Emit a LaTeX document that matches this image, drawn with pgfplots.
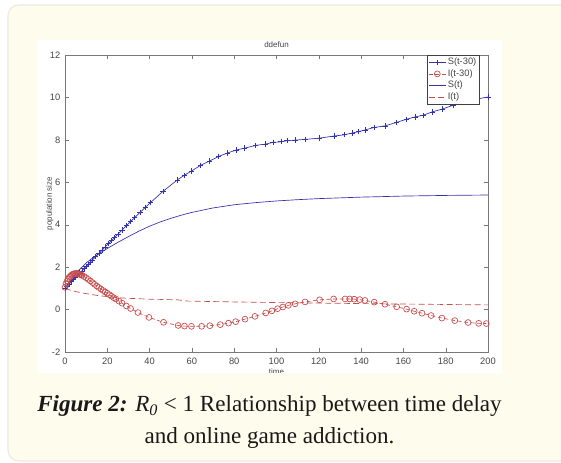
\documentclass[border=0pt]{standalone}
\usepackage{pgfplots}
\pgfplotsset{compat=1.18}
\usepackage{fontspec}
\setmainfont{Liberation Serif}
\newfontfamily\plotfont{Liberation Sans}
\definecolor{cream}{RGB}{254,252,236}
\definecolor{creamborder}{RGB}{236,234,222}
\definecolor{axisgray}{RGB}{120,120,120}
\definecolor{labelgray}{RGB}{70,70,70}
\definecolor{matblue}{RGB}{50,50,170}
\definecolor{matred}{RGB}{200,75,75}

\pgfplotstableread{
t v
0 1
1 1.1
2 1.2
3 1.31
4 1.41
5 1.51
6 1.62
7 1.72
8 1.82
9 1.93
10 2.03
11 2.13
12 2.24
13 2.34
14.5 2.49
16 2.64
17.5 2.8
19 2.95
20.5 3.1
22 3.25
23.5 3.4
25 3.55
27 3.75
29 3.95
31 4.15
33 4.34
35.5 4.58
38 4.82
40.5 5.05
46.3 5.57
53.1 6.11
56.4 6.33
59.8 6.53
64.1 6.8
68.3 7.0
72.7 7.22
76.8 7.38
80.9 7.52
85 7.61
90.2 7.74
94.8 7.8
98.4 7.88
102.2 7.91
105 7.96
108.8 7.99
113.4 8.02
120.3 8.08
127.2 8.18
132.3 8.24
135.7 8.32
138.9 8.39
141.9 8.47
146.1 8.58
151.3 8.66
156.7 8.82
161.4 8.97
165.5 9.08
169.3 9.16
173.7 9.32
178.4 9.45
183.4 9.63
188.5 9.78
193.5 9.9
200 10.02
}\Sdelay

\pgfplotstableread{
t v
0 1.05
0.5 1.22
1 1.35
1.5 1.45
2 1.52
2.5 1.57
3 1.62
3.5 1.65
4 1.68
4.5 1.69
5 1.7
5.5 1.7
6 1.69
6.5 1.68
7 1.66
7.5 1.64
8 1.62
9 1.56
10 1.5
11 1.42
12 1.35
13 1.27
14 1.19
15 1.11
16 1.04
17 0.97
18 0.9
19 0.83
20 0.77
21 0.7
22 0.63
23 0.56
24 0.5
25.5 0.4
27 0.3
29 0.17
31 0.05
34.5 -0.14
39.7 -0.37
46.6 -0.6
53.5 -0.75
56.5 -0.78
59.8 -0.79
64.6 -0.79
68.5 -0.76
73.4 -0.71
77.3 -0.64
80.7 -0.57
85.1 -0.45
89.8 -0.32
94.9 -0.16
97.8 -0.06
100.5 0.04
103 0.12
105.6 0.2
108.8 0.27
113.5 0.36
120.4 0.46
127 0.5
132.4 0.5
134.6 0.5
136.7 0.49
139.4 0.47
141.8 0.43
146.2 0.35
151.3 0.25
156.8 0.13
161.5 0.02
165.1 -0.08
168.8 -0.17
173.1 -0.28
178.2 -0.4
184.3 -0.52
190.6 -0.61
195.6 -0.65
199.2 -0.66
}\Idelay

\pgfplotstableread{
t v
0 1
2 1.3
5 1.7
10 2.2
15 2.57
20 2.88
25 3.17
30 3.44
35 3.7
40 3.93
45 4.13
50 4.3
55 4.45
60 4.58
70 4.79
80 4.94
90 5.04
100 5.12
110 5.18
120 5.23
140 5.3
160 5.35
180 5.38
200 5.4
}\Splain

\pgfplotstableread{
t v
0 1
2 0.93
5 0.85
10 0.75
15 0.67
20 0.61
25 0.56
30 0.53
40 0.49
53 0.46
58 0.4
80 0.36
100 0.33
150 0.27
200 0.22
}\Iplain

\begin{document}
\begin{tikzpicture}
\useasboundingbox (0,0) rectangle (420.75pt,347.25pt);
\clip (0,0) rectangle (420.75pt,347.25pt);
\fill[white] (0,0) rectangle (420.75pt,347.25pt);
\filldraw[fill=cream, draw=creamborder, line width=0.8pt, rounded corners=8pt] (6pt,1.5pt) rectangle (440pt,343.5pt);
\fill[white] (27.75pt,67.5pt) rectangle (376.5pt,317.25pt);
\begin{scope}
\clip (27.75pt,67.5pt) rectangle (376.5pt,317.25pt);
\begin{axis}[
  at={(48.75pt,83.25pt)}, anchor=south west,
  scale only axis, width=317.25pt, height=222.75pt,
  xmin=0, xmax=200, ymin=-2, ymax=12,
  xtick={0,20,...,200}, ytick={-2,0,...,12},
  tick align=inside,
  major tick length=3pt,
  axis line style={draw=axisgray},
  tick style={draw=axisgray},
  /pgf/number format/assume math mode=true,
  ticklabel style={font=\plotfont\fontsize{7}{8}\selectfont, text=labelgray},
  xticklabel style={yshift=-1pt},
  title={ddefun},
  title style={font=\plotfont\fontsize{6}{7}\selectfont, text=labelgray, yshift=-4pt},
  xlabel={time}, ylabel={population size},
  xlabel style={yshift=4pt},
  ylabel style={at={(axis description cs:-0.036,0.5)}, anchor=center},
  label style={font=\plotfont\fontsize{6}{7}\selectfont, text=labelgray},
  legend style={at={(0.979,1)}, anchor=north east,
    font=\plotfont\fontsize{7}{8}\selectfont, text=labelgray,
    draw=black!75, fill=white, inner sep=0.8pt, row sep=0pt,
    nodes={inner sep=1.1pt}},
  legend cell align=left,
  legend image code/.code={\draw[mark repeat=2,mark phase=2] plot coordinates {(0pt,0pt) (6.5pt,0pt) (13pt,0pt)};},
]
\addplot[matblue, line width=0.5pt, mark=+, mark size=2pt, mark options={solid}] table[x=t,y=v] {\Sdelay};
\addlegendentry{S(t-30)}
\addplot[matred, line width=0.5pt, densely dashed, mark=o, mark size=2.2pt, mark options={solid}] table[x=t,y=v] {\Idelay};
\addlegendentry{I(t-30)}
\addplot[matblue, line width=0.5pt] table[x=t,y=v] {\Splain};
\addlegendentry{S(t)}
\addplot[matred, line width=0.5pt, dash pattern=on 4.5pt off 2.5pt] table[x=t,y=v] {\Iplain};
\addlegendentry{I(t)}
\end{axis}
\end{scope}
\node[anchor=base, font=\fontsize{17.3}{20}\selectfont, text=black!90] at (202.1pt,38.5pt) {\textbf{\textit{Figure 2:}} \textit{R\textsubscript{0}} < 1 Relationship between time delay};
\node[anchor=base, font=\fontsize{17.3}{20}\selectfont, text=black!90] at (202.1pt,14.5pt) {and online game addiction.};
\end{tikzpicture}
\end{document}
